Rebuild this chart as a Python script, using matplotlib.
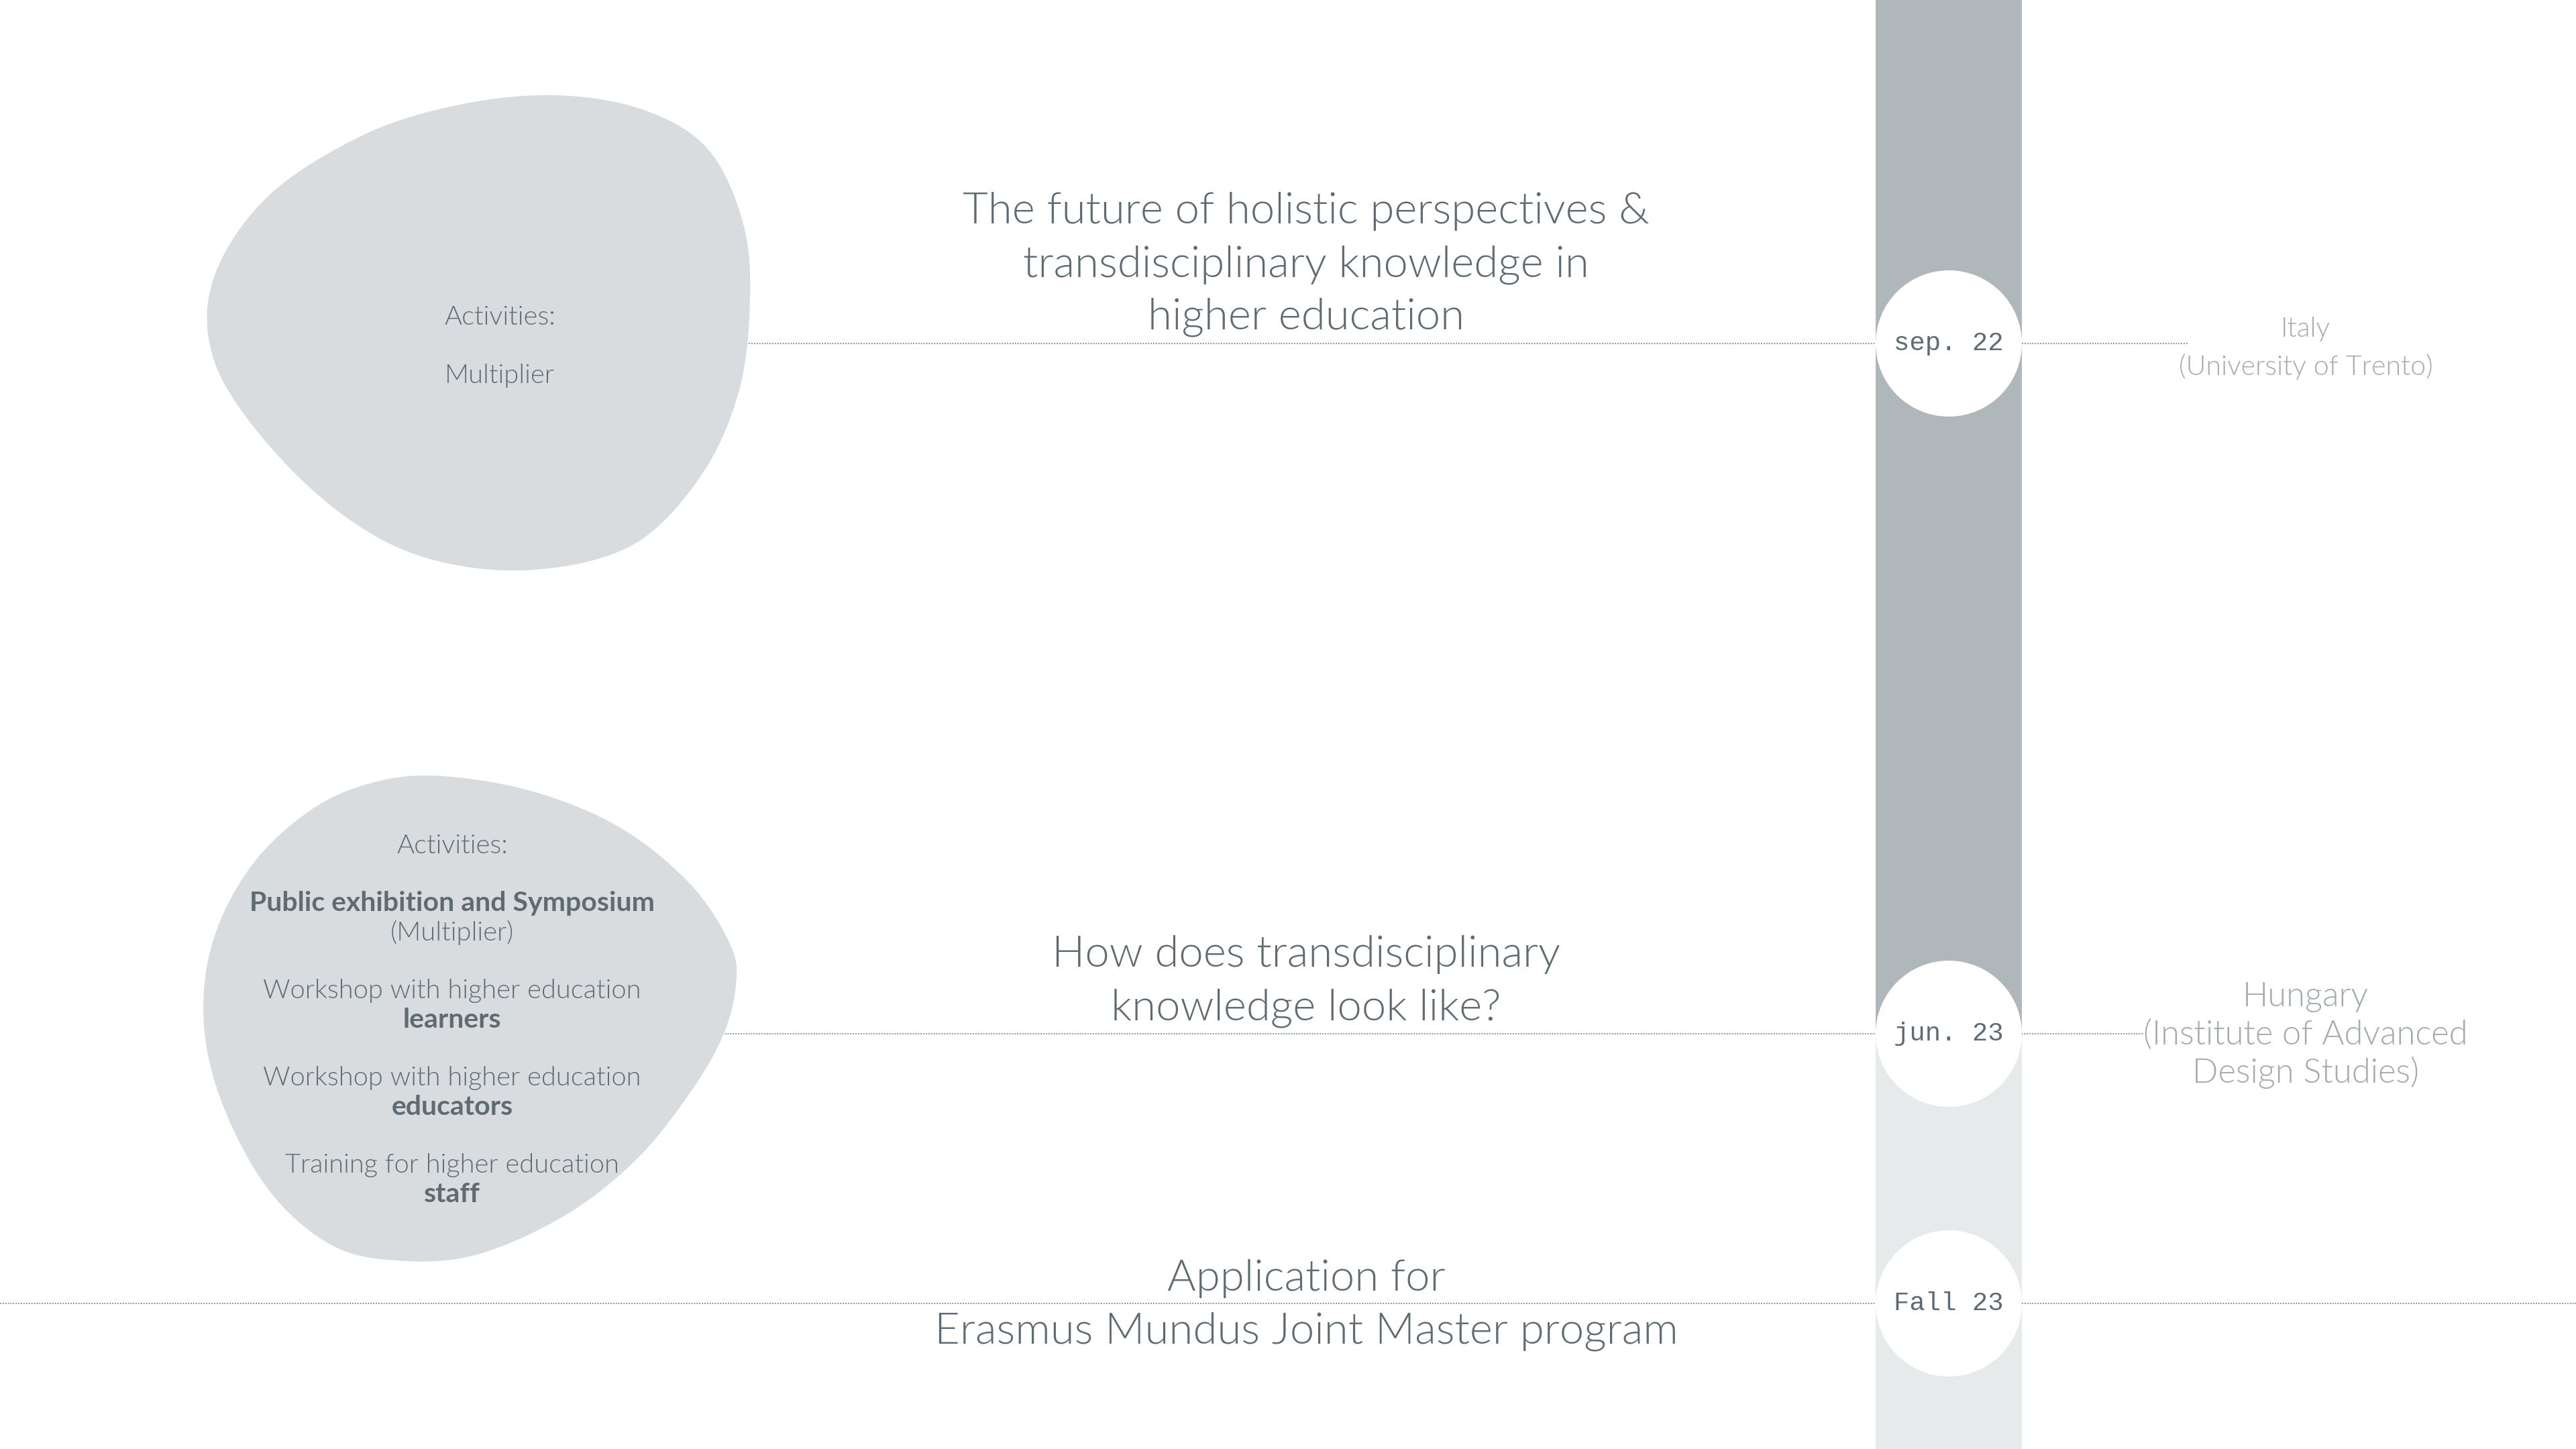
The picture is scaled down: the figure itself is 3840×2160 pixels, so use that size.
import numpy as np
import matplotlib
matplotlib.use("Agg")
import matplotlib.pyplot as plt
from matplotlib.patches import Rectangle, Circle

# ---------------- data ----------------
dates = ["sep. 22", "jun. 23", "Fall 23"]
titles = [
    "The future of holistic perspectives &\ntransdisciplinary knowledge in\nhigher education",
    "How does transdisciplinary\nknowledge look like?",
    "Application for\nErasmus Mundus Joint Master program",
]
locations = [
    "Italy\n(University of Trento)",
    "Hungary\n(Institute of Advanced\nDesign Studies)",
    "",
]
# activities: list of (text, bold) lines, groups separated by None
activities_1 = [("Activities:", False), None, ("Multiplier", False)]
activities_2 = [
    ("Activities:", False), None,
    ("Public exhibition and Symposium", True), ("(Multiplier)", False), None,
    ("Workshop with higher education", False), ("learners", True), None,
    ("Workshop with higher education", False), ("educators", True), None,
    ("Training for higher education", False), ("staff", True),
]

# ---------------- layout (pixels) ----------------
W, H = 3840, 2160
event_y = [512, 1541, 1943]
title_first_baseline = [333, 1441, 1924]
title_step = 79
title_x = 1947
loc_x = 3437
loc_first_baseline = [502, 1500]
loc_step = 57
bar_x0, bar_x1 = 2796, 3014
bar_split_y = 1545
circle_r = 109
line_start = [700, 680, 0]
line_end = [3262, 3196, W]

blob1_pts = [(830, 142), (960, 164), (1055, 222), (1107, 330), (1118, 447),
             (1101, 585), (1043, 712), (940, 814), (785, 850), (630, 830),
             (505, 763), (390, 651), (318, 534), (318, 416), (398, 294),
             (540, 202), (685, 156)]
blob2_pts = [(660, 1157), (795, 1180), (925, 1234), (1030, 1319), (1089, 1409),
             (1097, 1468), (1078, 1543), (1030, 1627), (950, 1727), (842, 1812),
             (708, 1871), (591, 1879), (494, 1856), (403, 1777), (334, 1652),
             (304, 1528), (317, 1404), (376, 1289), (467, 1205), (562, 1165)]
blob1_text = (745, 484, 87)      # x, first baseline, group step
blob2_text = (674, 1272, 44, 86)  # x, first baseline, line step, group step

# ---------------- styles ----------------
C_BAR_DARK = "#b0b7bb"
C_BAR_LIGHT = "#e7eaea"
C_BLOB = "#d9dcdf"
C_TEXT = "#5f6b73"
C_LOC = "#a3aab0"
C_LINE = "#8c969c"
SANS = ["Lato", "DejaVu Sans"]
MONO = ["Liberation Mono", "DejaVu Sans Mono"]
LIGHT = 300
loc_sizes = [29.5, 36.5]
title_size = 47


def closed_spline(pts, n=40):
    P = np.array(pts, float)
    N = len(P)
    t = np.linspace(0, 1, n, endpoint=False)[:, None]
    out = []
    for i in range(N):
        p0, p1, p2, p3 = P[(i - 1) % N], P[i], P[(i + 1) % N], P[(i + 2) % N]
        out.append(0.5 * (2 * p1 + (-p0 + p2) * t
                          + (2 * p0 - 5 * p1 + 4 * p2 - p3) * t ** 2
                          + (-p0 + 3 * p1 - 3 * p2 + p3) * t ** 3))
    return np.vstack(out)


fig = plt.figure(figsize=(W / 100, H / 100), dpi=100)
ax = fig.add_axes([0, 0, 1, 1])
ax.set_xlim(0, W)
ax.set_ylim(H, 0)
ax.axis("off")
fig.patch.set_facecolor("white")

# connector lines (below everything)
for y, xs, xe in zip(event_y, line_start, line_end):
    ax.plot([xs, xe], [y, y], color=C_LINE, lw=1.4, linestyle=(0, (1, 1)),
            zorder=1, solid_capstyle="butt")

# blobs
for pts in (blob1_pts, blob2_pts):
    s = closed_spline(pts)
    ax.fill(s[:, 0], s[:, 1], color=C_BLOB, lw=0, zorder=2)

# vertical bar
ax.add_patch(Rectangle((bar_x0, 0), bar_x1 - bar_x0, bar_split_y,
                       color=C_BAR_DARK, lw=0, zorder=3))
ax.add_patch(Rectangle((bar_x0, bar_split_y), bar_x1 - bar_x0, H - bar_split_y,
                       color=C_BAR_LIGHT, lw=0, zorder=3))
cx = (bar_x0 + bar_x1) / 2
for y, d in zip(event_y, dates):
    ax.add_patch(Circle((cx, y), circle_r, color="white", lw=0, zorder=4))
    ax.text(cx, y, d, family=MONO, fontsize=28, color=C_TEXT,
            ha="center", va="center", zorder=5)

# titles
for t, yb in zip(titles, title_first_baseline):
    for k, line in enumerate(t.split("\n")):
        ax.text(title_x, yb + k * title_step, line, family=SANS, weight=LIGHT,
                fontsize=title_size, color=C_TEXT, ha="center", va="baseline", zorder=5)

# locations
for loc, yb, fs in zip(locations, loc_first_baseline, loc_sizes):
    for k, line in enumerate(loc.split("\n")):
        ax.text(loc_x, yb + k * loc_step, line, family=SANS, weight=LIGHT,
                fontsize=fs, color=C_LOC, ha="center", va="baseline", zorder=5)


def blob_line(x, y, item):
    txt, bold = item
    ax.text(x, y, txt, family=SANS, fontsize=29.5 if bold else 28.7, color=C_TEXT,
            weight="bold" if bold else LIGHT, ha="center", va="baseline", zorder=5)


# activities text
x1, y1, g1 = blob1_text
y = y1
for item in activities_1:
    if item is None:
        y += g1
        continue
    blob_line(x1, y, item)

x2, y2, step2, g2 = blob2_text
y = y2
first = True
for item in activities_2:
    if item is None:
        y += g2 - step2
        continue
    if not first:
        y += step2
    first = False
    blob_line(x2, y, item)

fig.savefig("out.png", dpi=100, facecolor="white")
